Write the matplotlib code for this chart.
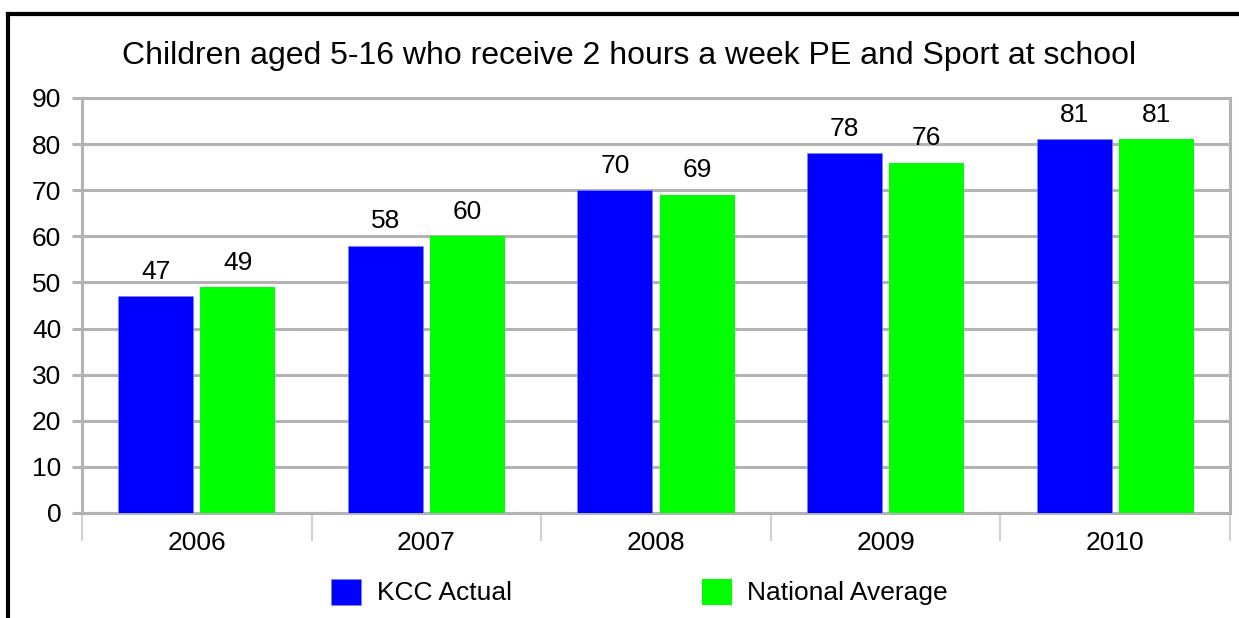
import numpy as np
import matplotlib.pyplot as plt
from matplotlib.lines import Line2D
from matplotlib.patches import Patch

plt.rcParams['font.family'] = ['Liberation Sans', 'DejaVu Sans']

# 数据
years = ['2006', '2007', '2008', '2009', '2010']
kcc_actual = [47, 58, 70, 78, 81]
national_avg = [49, 60, 69, 76, 81]
title = 'Children aged 5-16 who receive 2 hours a week PE and Sport at school'

grid_col = '#b3b3b3'
fs = 19

fig = plt.figure(figsize=(12.39, 6.18), dpi=100)
ax = fig.add_axes([82 / 1239, 1 - 513 / 618, (1230 - 82) / 1239, (513 - 98) / 618])

x = np.arange(len(years))
w = 0.327
off = 0.179
b1 = ax.bar(x - off, kcc_actual, w, color='#0000ff', edgecolor='#8080ff', linewidth=0.5, zorder=3)
b2 = ax.bar(x + off, national_avg, w, color='#00ff00', zorder=3)
ax.bar_label(b1, padding=9, fontsize=fs)
ax.bar_label(b2, padding=9, fontsize=fs)

ax.set_xlim(-0.5, len(years) - 0.5)
ax.set_ylim(0, 90)
ax.set_yticks(range(0, 91, 10))
ax.yaxis.grid(True, color=grid_col, linewidth=2.2, zorder=0)
ax.set_axisbelow(True)

# x轴: 标签在中间，刻度在分类边界
ax.set_xticks(x)
ax.set_xticklabels(years)
ax.set_xticks(np.arange(-0.5, len(years)), minor=True)
ax.tick_params(axis='x', which='major', length=0, labelsize=fs, pad=13)
ax.tick_params(axis='x', which='minor', length=20, width=1.2, color='#c8c8c8')
ax.tick_params(axis='y', length=7, width=2.2, color=grid_col, labelsize=fs, pad=8)

for s in ['left', 'bottom', 'right', 'top']:
    ax.spines[s].set_color(grid_col)
    ax.spines[s].set_linewidth(2.2)

fig.text(629 / 1239, 1 - 56 / 618, title, ha='center', va='center', fontsize=23)

# 外框（只看到上边和左边）
fig.add_artist(Line2D([8 / 1239, 1], [1 - 14 / 618, 1 - 14 / 618], color='black', linewidth=3))
fig.add_artist(Line2D([8 / 1239, 8 / 1239], [0, 1 - 14 / 618], color='black', linewidth=3))

handles = [Patch(facecolor='#0000ff', edgecolor='#8080ff', linewidth=0.5), Patch(facecolor='#00ff00')]
fig.legend(handles, ['KCC Actual', 'National Average'], loc='center', bbox_to_anchor=(0.516, 1 - 592 / 618),
           ncol=2, frameon=False, fontsize=fs, handlelength=1.14, handleheight=1.14,
           handletextpad=0.57, columnspacing=7.2)

fig.savefig('out.png', dpi=100)
